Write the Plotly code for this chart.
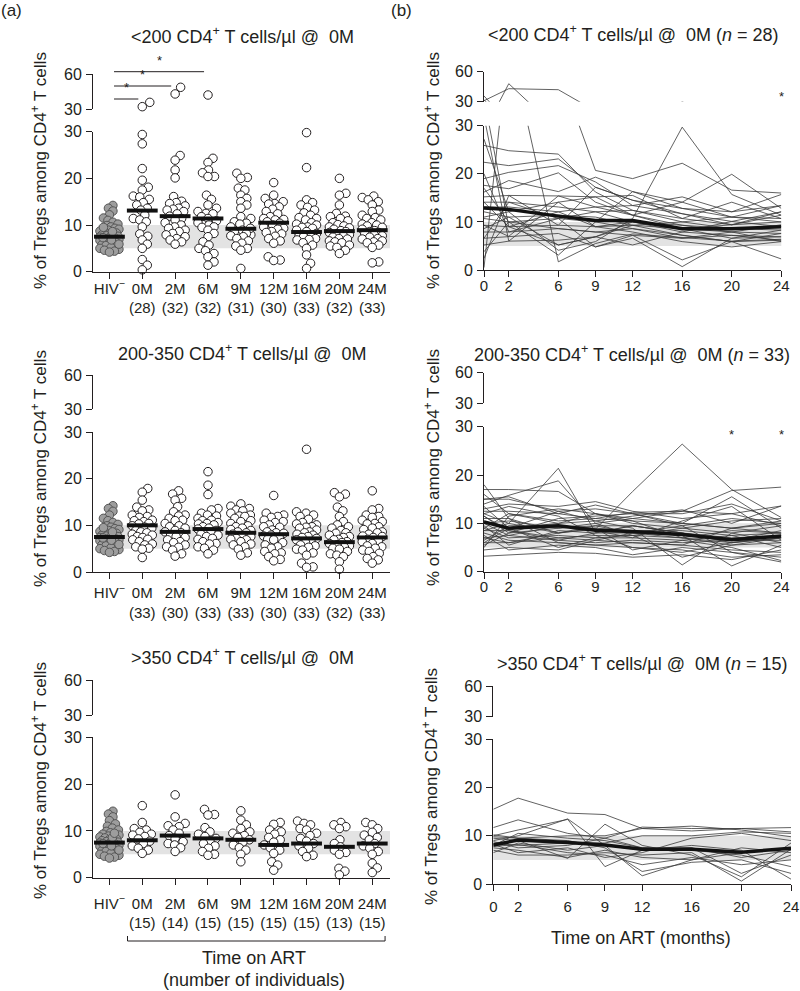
import numpy as np
import plotly.graph_objects as go

W, H = 800, 991
FONT = "Liberation Sans, Arial, Helvetica, sans-serif"
INK = "#231f20"

# ---------------- labels / categories ----------------
GROUP_LABELS = ["0M", "2M", "6M", "9M", "12M", "16M", "20M", "24M"]
HIV_LABEL = "HIV<sup>−</sup>"
MONTHS = [0, 2, 6, 9, 12, 16, 20, 24]
HEALTHY_RANGE = [5, 10]
Y_LOWER_TICKS = [0, 10, 20, 30]
Y_UPPER_TICKS = [30, 60]

TITLES_A = ["<200 CD4<sup>+</sup> T cells/µl @ \u00a00M",
            "200-350 CD4<sup>+</sup> T cells/µl @ \u00a00M",
            ">350 CD4<sup>+</sup> T cells/µl @ \u00a00M"]
TITLES_B = ["<200 CD4<sup>+</sup> T cells/µl @ \u00a00M (<i>n</i> = 28)",
            "200-350 CD4<sup>+</sup> T cells/µl @ \u00a00M (<i>n</i> = 33)",
            ">350 CD4<sup>+</sup> T cells/µl @ \u00a00M (<i>n</i> = 15)"]
Y_TITLE = "% of Tregs among CD4<sup>+</sup> T cells"

# ---------------- HIV-negative controls (same in every panel) ----------------
HIV_NEG = [14.2, 13.6, 13.0, 12.2, 11.5, 11.0, 10.6, 10.2, 9.9, 9.6, 9.3, 9.1, 8.9, 8.7,
           8.5, 8.3, 8.1, 7.9, 7.8, 7.7, 7.6, 7.5, 7.4, 7.2, 7.0, 6.9, 6.7, 6.5, 6.3, 6.1,
           6.0, 5.8, 5.6, 5.4, 5.2, 5.0, 4.8, 4.6, 4.4, 4.2, 8.6, 7.3, 6.8, 9.5, 5.9]
HIV_MEDIAN = 7.5

# ---------------- (a) <200 cells/µl ----------------
LOW_N = [28, 32, 32, 31, 30, 33, 32, 33]
LOW_MEDIANS = [13.1, 11.9, 11.4, 9.2, 10.5, 8.5, 8.7, 8.9]
LOW_0M = [35.7, 32.0, 29.4, 27.4, 22.1, 19.6, 18.1, 17.5, 16.2, 16.0, 15.5, 14.8, 14.3, 13.6,
          13.2, 12.1, 11.4, 11.1, 10.7, 9.6, 8.1, 7.6, 6.8, 5.9, 5.0, 2.6, 1.4, 0.4]
LOW_2M = [48.6, 42.9, 24.9, 23.9, 21.8, 20.1, 16.1, 15.1, 14.8, 14.6, 14.1, 13.6, 13.4, 13.2,
          12.9, 12.4, 11.9, 11.4, 11.1, 10.5, 10.0, 9.6, 9.3, 8.9, 8.6, 8.2, 7.9, 7.5, 7.1,
          6.8, 6.4, 5.9]
LOW_6M = [42.0, 24.3, 23.4, 21.8, 21.2, 20.4, 20.4, 16.4, 15.5, 14.3, 13.6, 12.9, 12.5, 12.4,
          11.8, 11.4, 10.9, 10.5, 10.0, 9.6, 9.5, 8.9, 8.2, 7.5, 6.4, 5.7, 5.0, 4.5, 3.9, 3.2,
          2.1, 1.4]
LOW_9M = [21.1, 20.2, 20.0, 17.9, 17.5, 16.4, 15.7, 15.0, 14.3, 13.6, 8.0, 7.9, 11.8, 11.4,
          10.7, 10.4, 10.2, 9.6, 9.3, 8.9, 8.6, 8.2, 7.7, 7.5, 7.1, 6.6, 6.1, 5.5, 5.0, 4.6, 0.7]
LOW_12M = [19.1, 16.4, 15.7, 15.0, 14.6, 14.5, 13.9, 13.4, 12.9, 12.4, 11.8, 11.4, 11.2, 11.1,
           10.7, 10.4, 10.0, 9.6, 9.3, 9.1, 8.6, 8.4, 8.1, 7.6, 7.1, 6.6, 6.1, 3.2, 2.5, 2.4]
LOW_16M = [29.8, 22.3, 15.4, 14.8, 14.3, 13.8, 13.2, 12.6, 12.1, 11.6, 11.4, 11.1, 10.5, 10.2,
           10.0, 9.6, 9.5, 9.3, 8.9, 8.6, 8.2, 7.9, 7.6, 7.5, 7.1, 6.9, 6.8, 6.2, 5.7, 5.0,
           3.6, 1.8, 0.7]
LOW_20M = [20.0, 16.8, 16.4, 14.3, 12.5, 11.9, 11.8, 11.4, 10.9, 10.5, 10.1, 9.8, 9.6, 9.4,
           9.1, 8.8, 8.6, 8.4, 8.1, 7.9, 7.7, 7.4, 7.1, 7.0, 6.6, 6.4, 6.2, 5.7, 5.5, 5.2,
           4.6, 3.9]
LOW_24M = [16.2, 15.9, 15.4, 15.0, 14.3, 13.2, 12.9, 12.1, 11.6, 11.4, 11.1, 10.5, 10.2, 10.0,
           9.8, 9.5, 9.1, 8.8, 8.6, 8.4, 8.1, 7.9, 7.7, 7.4, 7.1, 7.0, 6.6, 6.4, 6.2, 5.7,
           5.2, 2.1, 1.9]

# ---------------- (a) 200-350 cells/µl ----------------
MID_N = [33, 30, 33, 33, 30, 33, 32, 33]
MID_MEDIANS = [10.0, 8.6, 9.2, 8.4, 8.1, 7.2, 6.4, 7.4]
MID_0M = [17.9, 17.1, 15.4, 13.9, 13.3, 13.1, 12.2, 11.9, 11.7, 11.1, 11.0, 10.8, 10.4, 10.3,
          9.9, 9.6, 9.4, 8.9, 8.6, 8.4, 8.1, 7.9, 7.6, 7.4, 7.0, 6.9, 6.5, 6.0, 5.8, 5.4,
          5.1, 4.9, 3.1]
MID_2M = [17.4, 16.7, 15.8, 15.4, 14.0, 12.9, 12.2, 12.0, 11.5, 11.1, 11.0, 10.4, 9.9, 9.7,
          9.4, 8.9, 8.6, 8.4, 7.9, 7.6, 7.4, 6.9, 6.5, 6.3, 5.8, 5.4, 5.3, 4.7, 3.9, 3.4]
MID_6M = [21.5, 18.6, 16.6, 13.6, 13.3, 12.6, 12.2, 12.0, 11.5, 11.1, 11.0, 10.6, 10.4, 10.3,
          10.1, 9.7, 9.4, 9.2, 8.9, 8.6, 8.4, 8.1, 7.9, 7.6, 7.2, 7.0, 6.5, 6.1, 6.0, 5.4,
          5.1, 4.7, 3.9]
MID_9M = [14.6, 14.1, 13.6, 13.3, 13.1, 12.6, 12.2, 12.0, 11.9, 11.5, 11.0, 10.8, 10.4, 9.9,
          9.7, 9.4, 9.1, 8.9, 8.6, 8.4, 8.1, 7.7, 7.6, 7.2, 7.0, 6.9, 6.5, 6.0, 5.8, 5.4,
          4.9, 4.1, 3.6]
MID_12M = [16.4, 12.6, 12.2, 11.9, 11.7, 11.1, 10.8, 10.6, 10.1, 9.7, 9.6, 9.0, 8.6, 8.4,
           8.3, 7.9, 7.7, 7.4, 7.0, 6.9, 6.3, 5.8, 5.4, 5.1, 4.4, 4.1, 3.9, 3.3, 2.7, 2.4]
MID_16M = [26.3, 12.9, 12.6, 12.2, 11.9, 11.3, 10.6, 10.3, 10.1, 9.7, 9.6, 9.4, 9.0, 8.6,
           8.4, 8.1, 7.9, 7.6, 7.4, 7.2, 6.9, 6.5, 6.3, 5.8, 5.6, 5.3, 4.9, 4.7, 4.1, 3.6,
           1.9, 1.1, 1.0]
MID_20M = [17.0, 16.7, 16.1, 13.9, 13.1, 11.9, 10.8, 10.1, 9.7, 9.4, 8.9, 8.4, 8.3, 7.9,
           7.6, 7.4, 7.0, 6.9, 6.5, 6.3, 6.1, 5.8, 5.6, 5.3, 5.1, 4.9, 4.4, 3.9, 3.6, 3.3,
           2.2, 0.6]
MID_24M = [17.4, 13.6, 13.3, 12.2, 11.9, 11.7, 11.1, 10.8, 10.4, 10.3, 9.7, 9.4, 9.1, 8.6,
           8.4, 8.1, 7.7, 7.6, 7.4, 7.0, 6.7, 6.5, 6.1, 5.6, 5.4, 5.1, 4.7, 4.4, 4.0, 3.3,
           2.9, 2.6, 1.9]

# ---------------- (a) >350 cells/µl ----------------
HIGH_N = [15, 14, 15, 15, 15, 15, 13, 15]
HIGH_MEDIANS = [8.0, 9.0, 8.4, 8.1, 7.0, 7.3, 6.6, 7.3]
HIGH_0M = [15.4, 11.8, 10.5, 10.2, 9.7, 9.3, 9.1, 8.8, 8.3, 7.8, 7.3, 6.8, 6.3, 5.9, 5.2]
HIGH_2M = [17.7, 13.0, 11.6, 11.1, 10.9, 10.2, 9.5, 9.0, 8.4, 7.7, 7.3, 7.0, 6.4, 5.6]
HIGH_6M = [14.6, 13.5, 13.4, 10.7, 9.8, 9.3, 8.8, 8.4, 7.8, 7.3, 6.8, 6.3, 5.6, 5.0, 4.8]
HIGH_9M = [14.3, 12.3, 11.3, 10.5, 9.8, 9.5, 9.0, 8.6, 8.1, 7.6, 7.0, 6.4, 5.9, 5.0, 3.4]
HIGH_12M = [11.8, 11.4, 10.2, 9.8, 9.3, 8.6, 8.1, 7.6, 7.0, 6.4, 5.9, 5.2, 3.4, 2.7, 1.6]
HIGH_16M = [12.1, 11.6, 11.3, 10.5, 10.2, 9.5, 9.0, 8.4, 7.8, 7.3, 6.8, 6.3, 5.6, 4.8, 4.5]
HIGH_20M = [11.8, 11.3, 10.9, 10.5, 8.1, 7.3, 6.6, 5.9, 5.4, 5.0, 2.0, 1.4, 0.6]
HIGH_24M = [11.8, 11.3, 10.5, 9.7, 9.1, 8.6, 8.1, 7.3, 6.8, 6.3, 5.6, 5.0, 3.1, 2.1, 1.1]

# significance bars in (a) top: HIV- vs group index
SIG_PAIRS_A = [(0, 1), (0, 2), (0, 3)]

# ---------------- (b) individual trajectories (values at MONTHS) ----------------
TRAJ_LOW = [
    [0.5, 48.0, 1.7, 5.5, 7.5, 6.8, 6.0, 6.4],
    [31.0, 43.0, 42.0, 20.7, 19.0, 22.2, 16.6, 16.0],
    [32.0, 6.0, 14.1, 9.0, 10.0, 7.9, 7.2, 6.2],
    [35.7, 9.0, 5.2, 6.9, 9.3, 8.6, 9.4, 10.0],
    [27.2, 12.1, 4.1, 5.9, 10.7, 29.7, 15.7, 11.4],
    [25.9, 24.8, 24.1, 16.2, 12.4, 10.0, 8.6, 9.0],
    [22.4, 21.7, 23.1, 17.2, 14.5, 11.7, 10.1, 12.1],
    [19.0, 20.3, 21.7, 18.3, 13.4, 15.2, 12.1, 15.7],
    [17.6, 16.9, 20.2, 14.1, 11.4, 14.1, 19.9, 12.8],
    [16.2, 18.6, 16.3, 19.3, 16.3, 12.8, 11.0, 13.4],
    [15.2, 15.5, 15.4, 15.2, 15.5, 10.7, 14.1, 10.7],
    [14.1, 14.1, 13.1, 12.1, 10.0, 9.3, 7.9, 9.4],
    [13.1, 13.1, 12.1, 13.1, 11.4, 8.6, 6.6, 8.3],
    [12.1, 11.0, 11.4, 11.0, 9.3, 7.2, 5.9, 7.6],
    [10.7, 10.0, 10.7, 10.0, 8.6, 6.6, 7.2, 6.9],
    [9.3, 9.0, 9.3, 9.0, 7.9, 5.9, 4.8, 5.9],
    [7.9, 7.9, 8.6, 7.9, 7.2, 2.1, 5.9, 2.3],
    [6.6, 6.9, 7.6, 4.8, 6.6, 0.7, 6.6, 6.9],
    [5.2, 6.0, 6.2, 6.9, 5.2, 7.9, 10.1, 9.0],
    [3.8, 10.0, 3.1, 10.0, 16.3, 14.1, 11.0, 10.7],
    [2.4, 15.5, 9.3, 17.2, 14.5, 12.8, 12.1, 13.4],
    [20.0, 7.9, 10.7, 12.1, 12.4, 10.7, 9.4, 11.4],
    [11.0, 12.1, 14.1, 15.2, 11.4, 9.3, 8.6, 8.3],
    [8.6, 11.0, 5.2, 6.9, 10.0, 8.6, 7.9, 7.6],
    [14.1, 9.0, 12.1, 9.0, 9.3, 10.0, 11.0, 10.0],
    [17.0, 10.0, 8.6, 7.9, 8.6, 7.2, 5.9, 6.2],
    [6.6, 14.1, 10.7, 4.8, 7.2, 6.6, 7.9, 5.9],
    [9.3, 7.0, 15.4, 13.1, 13.4, 11.7, 9.4, 12.1],
]
TRAJ_LOW_MEDIAN = [12.9, 12.6, 11.2, 10.3, 10.3, 8.6, 8.6, 9.0]

TRAJ_MID = [
    [12.0, 10.0, 21.4, 8.1, 9.5, 8.0, 6.0, 7.0],
    [14.0, 15.8, 18.8, 10.0, 7.5, 9.0, 8.0, 9.5],
    [18.0, 11.0, 8.0, 8.8, 16.6, 26.4, 17.0, 11.2],
    [17.0, 17.0, 16.6, 12.0, 11.0, 12.5, 16.8, 17.5],
    [15.0, 15.5, 12.0, 13.8, 12.0, 12.0, 14.0, 10.5],
    [13.0, 14.0, 13.5, 14.5, 12.5, 11.0, 12.0, 13.6],
    [12.5, 12.5, 12.0, 11.0, 10.5, 10.0, 15.5, 9.0],
    [11.5, 8.0, 11.0, 11.5, 12.0, 9.5, 11.0, 10.0],
    [10.5, 9.0, 10.0, 10.5, 9.0, 1.4, 8.0, 6.0],
    [10.0, 10.5, 9.0, 9.5, 8.0, 7.5, 1.2, 5.5],
    [9.5, 5.5, 8.5, 8.0, 9.5, 8.0, 7.0, 7.5],
    [9.0, 7.0, 7.5, 7.0, 7.0, 6.5, 5.0, 2.3],
    [8.5, 8.5, 7.0, 6.5, 6.0, 5.5, 4.5, 4.0],
    [8.0, 6.5, 6.0, 5.5, 5.0, 4.5, 3.0, 3.5],
    [7.5, 4.5, 5.5, 5.0, 3.5, 5.0, 4.0, 3.0],
    [7.0, 7.5, 6.5, 6.0, 6.5, 6.0, 6.5, 6.5],
    [6.5, 9.5, 9.5, 9.0, 8.5, 8.5, 7.5, 8.0],
    [6.0, 6.0, 7.0, 7.5, 7.5, 7.0, 6.0, 7.0],
    [5.5, 8.0, 9.0, 10.0, 11.0, 10.0, 9.0, 10.5],
    [5.0, 11.5, 13.0, 12.0, 10.0, 9.0, 10.5, 11.0],
    [4.5, 5.0, 4.5, 6.5, 8.0, 7.0, 8.5, 8.0],
    [3.2, 3.5, 4.0, 3.8, 3.0, 3.5, 2.5, 4.5],
    [16.0, 12.0, 10.5, 11.0, 12.3, 12.5, 12.0, 9.5],
    [12.0, 13.5, 11.5, 7.5, 5.0, 4.0, 6.0, 7.5],
    [11.0, 11.0, 6.0, 5.5, 6.0, 5.5, 9.0, 10.0],
    [10.0, 7.5, 9.5, 8.5, 7.0, 10.5, 13.5, 6.5],
    [8.5, 10.0, 8.0, 9.5, 9.5, 8.0, 6.5, 8.5],
    [13.5, 9.0, 12.5, 10.5, 11.5, 12.8, 10.0, 13.6],
    [9.0, 12.0, 10.0, 12.0, 10.5, 7.0, 5.5, 6.0],
    [7.0, 6.0, 8.0, 9.0, 4.5, 6.5, 7.5, 5.0],
    [11.5, 8.5, 6.5, 8.0, 8.0, 9.5, 4.0, 2.0],
    [6.0, 9.0, 5.0, 7.0, 7.5, 3.0, 5.5, 7.0],
    [15.0, 15.0, 12.5, 13.0, 12.0, 10.0, 9.0, 8.0],
]
TRAJ_MID_MEDIAN = [10.3, 9.0, 9.5, 8.6, 8.3, 7.7, 6.6, 7.4]

TRAJ_HIGH = [
    [15.5, 17.8, 14.7, 14.4, 11.5, 12.0, 11.2, 9.8],
    [11.7, 13.3, 10.5, 9.5, 11.8, 11.5, 11.5, 11.7],
    [10.0, 11.2, 13.4, 3.6, 7.0, 7.5, 5.5, 7.0],
    [9.5, 9.0, 5.3, 12.4, 8.0, 6.0, 1.5, 8.5],
    [9.0, 10.0, 13.5, 8.0, 1.7, 5.0, 7.5, 6.5],
    [8.5, 8.0, 8.5, 8.5, 10.0, 10.0, 10.8, 10.5],
    [8.0, 10.5, 9.5, 9.0, 7.5, 7.0, 6.0, 3.6],
    [7.5, 7.0, 5.5, 7.0, 5.5, 5.0, 6.5, 7.5],
    [7.0, 6.0, 6.0, 6.5, 6.0, 6.5, 0.6, 7.2],
    [10.2, 9.5, 9.0, 7.5, 2.6, 4.5, 5.0, 2.2],
    [6.5, 8.5, 7.0, 8.0, 7.0, 8.0, 7.0, 1.0],
    [8.2, 6.5, 7.5, 5.5, 6.5, 9.5, 10.5, 9.0],
    [9.8, 9.5, 10.0, 10.0, 11.5, 11.0, 11.5, 10.8],
    [7.8, 8.2, 6.5, 6.0, 4.0, 5.5, 4.0, 5.0],
    [8.8, 7.5, 8.0, 9.5, 7.5, 7.5, 2.2, 6.0],
]
TRAJ_HIGH_MEDIAN = [8.1, 9.1, 8.6, 8.1, 7.2, 7.2, 6.6, 7.4]

# significance stars in (b): (panel, month, value)
SIG_STARS_B = [(0, 24, 35.0), (1, 20, 28.4), (1, 24, 28.4)]

# ---------------- geometry (pixels in the 800x991 page) ----------------
LEFT_X = (93, 390)
LEFT_RANGE = [-0.50, 8.54]
GEOM = [
    dict(x=LEFT_X, low=(131.7, 271.7), up=(74, 109), std=-3),
    dict(x=LEFT_X, low=(432, 572), up=(375, 409), std=1),
    dict(x=LEFT_X, low=(737.3, 877.7), up=(680, 715), std=6),
    dict(x=(484, 781.3), low=(125.7, 270), up=(71.7, 101.7), std=-4),
    dict(x=(484, 781.3), low=(426.7, 571.7), up=(372.7, 403.3), std=-5),
    dict(x=(493.3, 791), low=(739.3, 884), up=(686, 716.7), std=3),
]


def fx(px):
    return px / W


def fy(py):
    return 1 - py / H


def sfx(n):
    return "" if n == 1 else str(n)


def swarm(values, ppu, diam=7.2, max_half=11.0):
    vals = np.asarray(values, dtype=float)
    order = np.argsort(vals)
    cands = [0.0]
    k = 1
    while k * 0.5 <= max_half:
        cands += [k * 0.5, -k * 0.5]
        k += 1
    placed = []
    offs = np.zeros(len(vals))
    for i in order:
        y = vals[i] * ppu
        best, best_alt, best_d = None, 0.0, -1.0
        for c in cands:
            md = min((np.hypot(c - px, y - py) for py, px in placed), default=1e9)
            if md >= diam:
                best = c
                break
            if md > best_d:
                best_d, best_alt = md, c
        if best is None:
            best = best_alt
        placed.append((y, best))
        offs[i] = best
    return offs


fig = go.Figure()
layout = dict(
    width=W, height=H, margin=dict(l=0, r=0, t=0, b=0),
    paper_bgcolor="white", plot_bgcolor="white", showlegend=False,
    font=dict(family=FONT, color=INK, size=15),
    shapes=[], annotations=[],
)

TICKFONT_Y = dict(family=FONT, size=16, color=INK)
TICKFONT_X = dict(family=FONT, size=15, color=INK)


def yaxis(dom, rng, ticks, xref):
    return dict(domain=dom, range=rng, anchor=xref, showline=True, linecolor=INK,
                linewidth=1, ticks="outside", ticklen=6, tickwidth=1, tickcolor=INK,
                tickmode="array", tickvals=ticks, ticktext=[str(t) for t in ticks],
                tickfont=TICKFONT_Y, showgrid=False, zeroline=False, fixedrange=True,
                ticklabelstandoff=1, automargin=False)


for p, g in enumerate(GEOM):
    xn, yl, yu = p + 1, 2 * p + 1, 2 * p + 2
    xref, ylref, yuref = "x" + sfx(xn), "y" + sfx(yl), "y" + sfx(yu)
    left = p < 3
    xa = dict(domain=[fx(g["x"][0]), fx(g["x"][1])], anchor=ylref, showline=True,
              linecolor=INK, linewidth=1, ticks="outside", ticklen=6, tickwidth=1,
              tickcolor=INK, showgrid=False, zeroline=False, fixedrange=True,
              tickfont=TICKFONT_X, ticklabelstandoff=g["std"], automargin=False,
              tickmode="array")
    if left:
        ns = [LOW_N, MID_N, HIGH_N][p]
        xa.update(range=LEFT_RANGE, tickvals=list(range(9)),
                  ticktext=[HIV_LABEL] + [f"{lab}<br>({n})" for lab, n in zip(GROUP_LABELS, ns)])
    else:
        xa.update(range=[0, 24], tickvals=MONTHS, ticktext=[str(m) for m in MONTHS])
    layout["xaxis" + sfx(xn)] = xa
    layout["yaxis" + sfx(yl)] = yaxis([fy(g["low"][1]), fy(g["low"][0])], [0, 30], Y_LOWER_TICKS, xref)
    layout["yaxis" + sfx(yu)] = yaxis([fy(g["up"][1]), fy(g["up"][0])], [30, 60], Y_UPPER_TICKS, xref)

    # empty traces so that both segments of the broken axis are always drawn
    for yr in (ylref, yuref):
        fig.add_trace(go.Scatter(x=[], y=[], mode="markers", xaxis=xref, yaxis=yr,
                                 hoverinfo="skip"))

    # healthy reference band
    layout["shapes"].append(dict(type="rect", xref=xref + " domain", yref=ylref,
                                 x0=0.017 if left else 0.0, x1=1.0,
                                 y0=HEALTHY_RANGE[0], y1=HEALTHY_RANGE[1],
                                 fillcolor="#e3e3e3", line=dict(width=0), layer="below"))

    low_ppu = (g["low"][1] - g["low"][0]) / 30.0
    up_ppu = (g["up"][1] - g["up"][0]) / 30.0
    if left:
        px_per_idx = (g["x"][1] - g["x"][0]) / (LEFT_RANGE[1] - LEFT_RANGE[0])
        groups = [[LOW_0M, LOW_2M, LOW_6M, LOW_9M, LOW_12M, LOW_16M, LOW_20M, LOW_24M],
                  [MID_0M, MID_2M, MID_6M, MID_9M, MID_12M, MID_16M, MID_20M, MID_24M],
                  [HIGH_0M, HIGH_2M, HIGH_6M, HIGH_9M, HIGH_12M, HIGH_16M, HIGH_20M, HIGH_24M]][p]
        meds = [HIV_MEDIAN] + [LOW_MEDIANS, MID_MEDIANS, HIGH_MEDIANS][p]
        hv = np.array(HIV_NEG)
        offs = swarm(hv, low_ppu, diam=5.0, max_half=9.5) / px_per_idx
        fig.add_trace(go.Scatter(x=0 + offs, y=hv, mode="markers", xaxis=xref, yaxis=ylref,
                                 cliponaxis=False, hoverinfo="skip",
                                 marker=dict(size=8.5, color="#9d9d9d",
                                             line=dict(color="#555555", width=1))))
        for gi, vals in enumerate(groups, start=1):
            v = np.array(vals)
            lo, hi = v[v <= 30], v[v > 30]
            o = swarm(lo, low_ppu, diam=6.5, max_half=10.0) / px_per_idx
            fig.add_trace(go.Scatter(x=gi + o, y=lo, mode="markers", xaxis=xref, yaxis=ylref,
                                     cliponaxis=False, hoverinfo="skip",
                                     marker=dict(size=8.5, color="white",
                                                 line=dict(color=INK, width=1))))
            if len(hi):
                o2 = swarm(hi, up_ppu, diam=8.5, max_half=11.0) / px_per_idx
                fig.add_trace(go.Scatter(x=gi + o2, y=hi, mode="markers", xaxis=xref,
                                         yaxis=yuref, cliponaxis=False, hoverinfo="skip",
                                         marker=dict(size=8.5, color="white",
                                                     line=dict(color=INK, width=1))))
        fig.add_trace(go.Scatter(x=list(range(9)), y=meds, mode="markers", xaxis=xref,
                                 yaxis=ylref, cliponaxis=False, hoverinfo="skip",
                                 marker=dict(symbol="line-ew", size=22,
                                             line=dict(color="#111111", width=4))))
    else:
        j = p - 3
        traj = [TRAJ_LOW, TRAJ_MID, TRAJ_HIGH][j]
        med = [TRAJ_LOW_MEDIAN, TRAJ_MID_MEDIAN, TRAJ_HIGH_MEDIAN][j]
        for yr in (ylref, yuref):
            for row in traj:
                fig.add_trace(go.Scatter(x=MONTHS, y=row, mode="lines", xaxis=xref, yaxis=yr,
                                         hoverinfo="skip",
                                         line=dict(color="#3a3a3a", width=0.8)))
        fig.add_trace(go.Scatter(x=MONTHS, y=med, mode="lines", xaxis=xref, yaxis=ylref,
                                 hoverinfo="skip", line=dict(color="#111111", width=3.5)))


def note(text, x, y, size=18, angle=0):
    return dict(text=text, x=fx(x), y=fy(y), xref="paper", yref="paper", showarrow=False,
                font=dict(size=size), xanchor="center", yanchor="middle", textangle=angle)


# ---------------- titles & text ----------------
TITLE_POS_A = [(242, 35), (242, 352), (242, 656)]
TITLE_POS_B = [(633, 33), (632, 354), (642, 662)]
YT_POS_A = [(39, 171), (39, 469), (39, 781)]
YT_POS_B = [(432, 171), (432, 468), (430, 787)]
for t, (x, y) in zip(TITLES_A + TITLES_B, TITLE_POS_A + TITLE_POS_B):
    layout["annotations"].append(note(t, x, y, 18))
for (x, y) in YT_POS_A + YT_POS_B:
    layout["annotations"].append(note(Y_TITLE, x, y, 17, -90))
layout["annotations"] += [
    note("(a)", 11, 10, 17),
    note("(b)", 401, 10, 17),
    note("Time on ART", 254, 958, 18),
    note("(number of individuals)", 254, 980, 18),
    note("Time on ART (months)", 641, 938, 18),
]

# bracket under time points (bottom-left)
layout["shapes"].append(dict(type="path", xref="x3", yref="paper",
                             path=f"M 0.55,{fy(936)} L 0.55,{fy(941)} L 8.39,{fy(941)} L 8.39,{fy(936)}",
                             line=dict(color=INK, width=1)))

# significance bars in (a) top
SIG_Y_PX = [99, 86, 71.7]
for (a, b), ypx in zip(SIG_PAIRS_A, SIG_Y_PX):
    x0, x1 = a + 0.14, b - 0.12
    layout["shapes"].append(dict(type="line", xref="x", yref="paper", x0=x0, x1=x1,
                                 y0=fy(ypx), y1=fy(ypx), line=dict(color=INK, width=1)))
    layout["annotations"].append(dict(text="*", x=(x0 + x1) / 2, y=fy(ypx - 2), xref="x",
                                      yref="paper", showarrow=False, yanchor="bottom",
                                      font=dict(size=13)))

# stars in (b)
for (panel, m, v) in SIG_STARS_B:
    p = 3 + panel
    xref = "x" + sfx(p + 1)
    yref = "y" + sfx(2 * p + 2) if v > 30 else "y" + sfx(2 * p + 1)
    layout["annotations"].append(dict(text="*", x=m, y=v, xref=xref, yref=yref,
                                      showarrow=False, font=dict(size=13)))

fig.update_layout(**layout)
fig.write_html("out.html", config={"displayModeBar": False},
               post_script="document.body.style.margin='0px';"
                           "document.body.style.overflow='hidden';")
